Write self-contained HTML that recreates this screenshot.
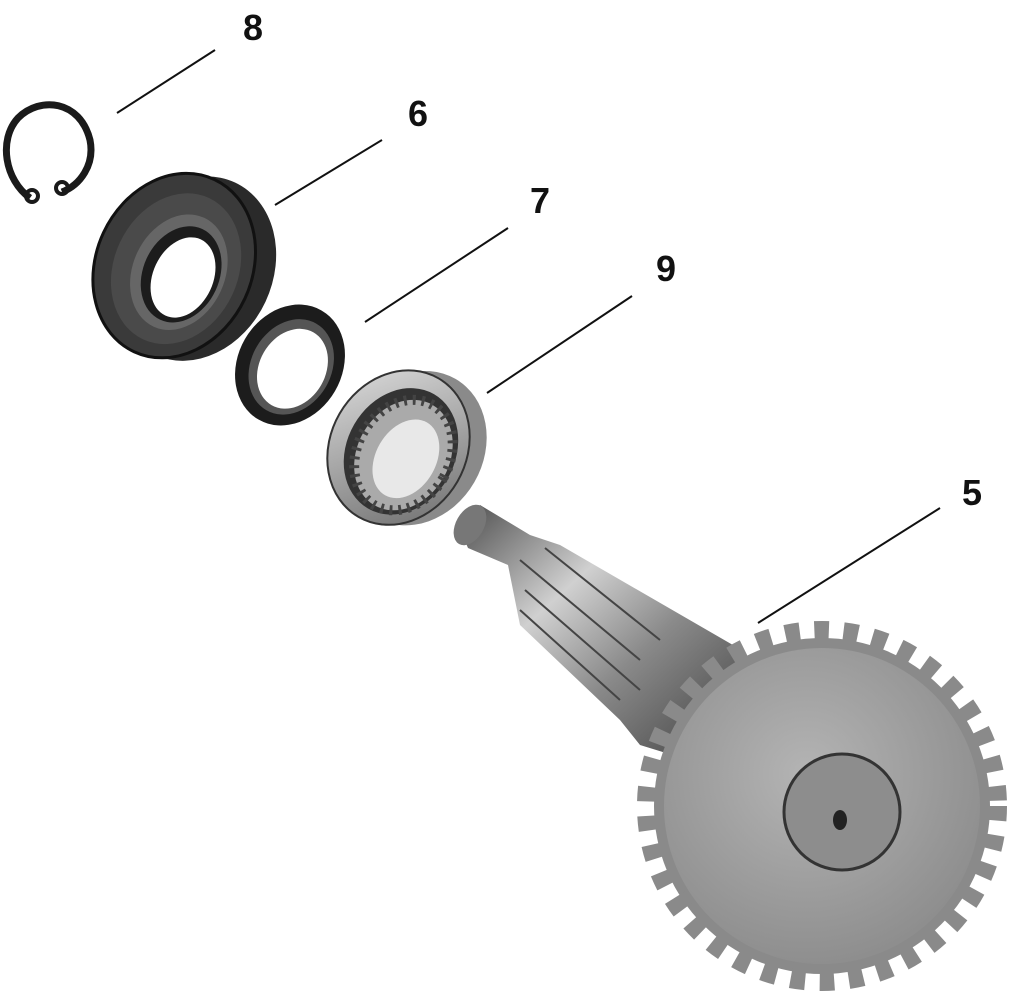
<!DOCTYPE html>
<html><head><meta charset="utf-8"><style>
html,body{margin:0;padding:0;background:#fff;}
svg{display:block}
text{font-family:"Liberation Sans",Arial,sans-serif;font-weight:bold;font-size:36px;fill:#111}
</style></head><body>
<svg width="1012" height="1000" viewBox="0 0 1012 1000" xmlns="http://www.w3.org/2000/svg">
<defs>
<radialGradient id="gear" cx="0.45" cy="0.4" r="0.7">
<stop offset="0" stop-color="#b4b4b4"/><stop offset="1" stop-color="#888"/></radialGradient>
<linearGradient id="shaft" x1="0" y1="0" x2="1" y2="1">
<stop offset="0" stop-color="#4a4a4a"/><stop offset="0.35" stop-color="#d0d0d0"/><stop offset="0.6" stop-color="#8a8a8a"/><stop offset="1" stop-color="#3c3c3c"/></linearGradient>
<linearGradient id="ring" x1="0" y1="0" x2="1" y2="1">
<stop offset="0" stop-color="#e0e0e0"/><stop offset="1" stop-color="#6a6a6a"/></linearGradient>
</defs>

<text x="243" y="40">8</text>
<text x="408" y="126">6</text>
<text x="530" y="213">7</text>
<text x="656" y="281">9</text>
<text x="962" y="505">5</text>
<g stroke="#111" stroke-width="2">
<line x1="117" y1="113" x2="215" y2="50"/>
<line x1="275" y1="205" x2="382" y2="140"/>
<line x1="365" y1="322" x2="508" y2="228"/>
<line x1="487" y1="393" x2="632" y2="296"/>
<line x1="758" y1="623" x2="940" y2="508"/>
</g>

<path d="M30,198 C5,180 -2,140 18,118 C40,96 80,100 90,140 C95,165 80,185 62,192" fill="none" stroke="#1a1a1a" stroke-width="7"/>
<circle cx="32" cy="196" r="6" fill="none" stroke="#1a1a1a" stroke-width="4"/>
<circle cx="62" cy="188" r="6" fill="none" stroke="#1a1a1a" stroke-width="4"/>

<g transform="rotate(25 180 265)">
<ellipse cx="195" cy="262" rx="78" ry="95" fill="#2a2a2a"/>
<ellipse cx="175" cy="268" rx="78" ry="95" fill="#3a3a3a" stroke="#111" stroke-width="3"/>
<ellipse cx="178" cy="270" rx="62" ry="78" fill="#4a4a4a"/>
<ellipse cx="182" cy="272" rx="46" ry="60" fill="#666"/>
<ellipse cx="185" cy="273" rx="38" ry="50" fill="#1c1c1c"/>
<ellipse cx="188" cy="275" rx="30" ry="42" fill="#fff"/>
</g>

<g transform="rotate(30 290 365)">
<ellipse cx="290" cy="365" rx="52" ry="63" fill="#1c1c1c"/>
<ellipse cx="292" cy="366" rx="40" ry="50" fill="#555"/>
<ellipse cx="294" cy="367" rx="33" ry="42" fill="#fff"/>
</g>

<g transform="rotate(30 400 445)">
<ellipse cx="415" cy="440" rx="68" ry="80" fill="#8a8a8a"/>
<ellipse cx="400" cy="448" rx="68" ry="80" fill="url(#ring)" stroke="#333" stroke-width="2"/>
<ellipse cx="404" cy="450" rx="54" ry="66" fill="#333"/>
<ellipse cx="408" cy="452" rx="46" ry="58" fill="#aaa" stroke="#444" stroke-width="10" stroke-dasharray="3 6"/>
<ellipse cx="412" cy="454" rx="30" ry="42" fill="#e8e8e8"/>
</g>

<polygon points="458,525 480,505 530,535 560,545 745,652 705,765 640,745 620,720 520,625 508,565 468,548" fill="url(#shaft)"/>
<ellipse cx="470" cy="525" rx="14" ry="22" transform="rotate(30 470 525)" fill="#777"/>
<g stroke="#444" stroke-width="2">
<line x1="520" y1="560" x2="640" y2="660"/>
<line x1="525" y1="590" x2="640" y2="690"/>
<line x1="545" y1="548" x2="660" y2="640"/>
<line x1="520" y1="610" x2="620" y2="700"/>
</g>

<circle cx="822" cy="806" r="168" fill="#8a8a8a" stroke="#8a8a8a" stroke-width="34" stroke-dasharray="14 14"/>
<circle cx="822" cy="806" r="158" fill="url(#gear)"/>
<circle cx="842" cy="812" r="58" fill="#8d8d8d" stroke="#333" stroke-width="3"/>
<ellipse cx="840" cy="820" rx="7" ry="10" fill="#222"/>
</svg>
</body></html>
